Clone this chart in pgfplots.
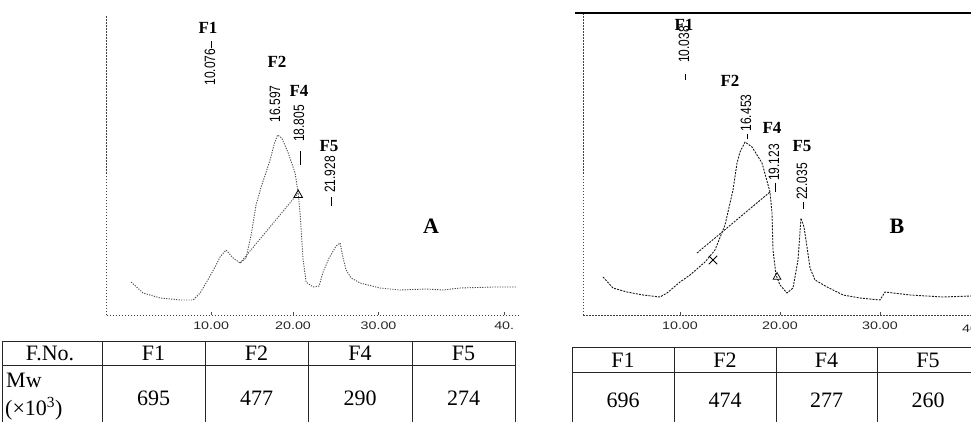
\documentclass[border=0pt]{standalone}
\usepackage{pgfplots}
\pgfplotsset{compat=1.18}
\usepackage{fontspec}
\setmainfont{Liberation Serif}
\newfontfamily\tnr{Liberation Serif}
\newfontfamily\narrow[FakeStretch=0.8]{Liberation Sans}
\newfontfamily\wide[FakeStretch=1.3]{Liberation Sans}
\newcommand{\pk}[2]{\raisebox{3.6pt}{\rule{#1}{0.8pt}}\hspace{#2}}
\begin{document}
\begin{tikzpicture}[x=1pt,y=1pt]
\useasboundingbox (0,0) rectangle (971,421);
\pgfplotsset{
  chrom/.style={scale only axis, anchor=south west, clip=false,
    axis x line*=bottom, axis y line*=left,
    axis line style={black!75, line width=0.8pt, dash pattern=on 1.5pt off 1.5pt},
    ytick=\empty, major tick length=3pt,
    tick style={black!70, line width=0.6pt},
    xticklabel style={font=\wide\fontsize{11}{11}\selectfont, yshift=-3pt, text=black!85}},
  curve/.style={black!70, line width=0.9pt, dash pattern=on 1.2pt off 1.3pt},
}
% ---------------- Panel A ----------------
\begin{axis}[chrom, at={(103.5,106)}, width=412pt, height=300pt,
  xmin=0, xmax=40, ymin=0, ymax=300,
  xtick={10.15,18.1,26.4,38.6}, xticklabels={10.00,20.00,30.00,40.}]
\addplot[curve] coordinates {
(2.38,33) (3.54,22) (5.19,17) (6.17,16) (7.23,15) (8.40,15) (9.08,22) (9.66,32)
(10.53,48) (11.02,58) (11.60,65) (12.28,57) (12.96,52) (13.54,57) (14.03,80)
(14.51,110) (15.00,128) (15.49,143) (15.87,155) (16.30,172) (16.60,180) (17.00,177)
(17.60,163) (18.30,142) (18.60,122) (18.80,100) (18.95,75) (19.08,55) (19.37,33)
(20.05,28) (20.63,29) (21.02,43) (21.60,57) (22.28,69) (22.67,72) (22.96,57)
(23.25,45) (23.74,37) (24.61,32) (26.55,27) (28.50,25) (31.02,26) (32.67,25)
(34.32,27) (37.52,28) (39.76,28)};
\addplot[curve] coordinates {(12.96,52) (18.60,122)};
\addplot[only marks, mark=triangle, mark size=5pt, mark options={black, line width=0.8pt}] coordinates {(18.6,120)};
\end{axis}
% ---------------- Panel B ----------------
\begin{axis}[chrom, at={(583,106)}, width=388pt, height=302pt,
  xmin=0.3, xmax=39.1, ymin=0, ymax=302,
  xtick={10,20,30}, xticklabels={10.00,20.00,30.00},
  after end axis/.code={\draw[black, line width=1.2pt] ([xshift=-8pt]rel axis cs:0,1) -- (rel axis cs:1,1);}]
\addplot[curve, black!90, dash pattern=on 2pt off 1.2pt] coordinates {
(2.3,38) (3.3,27) (4.7,23) (6.3,20) (8.0,18) (8.7,22) (10.0,33) (11.0,40) (12.5,53)
(13.5,65) (14.5,90) (15.3,125) (15.7,152) (16.0,163) (16.5,173) (17.2,168) (18.2,152)
(19.0,123) (19.2,102) (19.3,65) (19.6,40) (20.0,30) (20.7,22) (21.3,27) (21.8,55)
(22.1,97) (22.4,88) (22.7,68) (23.0,47) (23.5,35) (24.7,28) (26.3,20) (28.0,17)
(30.0,15) (30.5,23) (33.0,20) (36.3,18) (39.1,19)};
\addplot[curve, black!90, dash pattern=on 2pt off 1.2pt] coordinates {(11.7,62) (19.0,123)};
\addplot[only marks, mark=triangle, mark size=4.5pt, mark options={black, line width=0.7pt}] coordinates {(19.7,38)};
\addplot[only marks, mark=x, mark size=6pt, mark options={black, line width=0.8pt}] coordinates {(13.3,55)};
\node[font=\wide\fontsize{11}{11}\selectfont, anchor=north, yshift=-6pt, text=black!85] at (axis cs:40,0) {40.00};
\end{axis}
% ---------------- peak labels ----------------
\begin{scope}[every node/.style={inner sep=0pt}]
\node[font=\bfseries\fontsize{17}{17}\selectfont] at (208,393) {F1};
\node[font=\bfseries\fontsize{17}{17}\selectfont] at (277,359) {F2};
\node[font=\bfseries\fontsize{17}{17}\selectfont] at (299,330) {F4};
\node[font=\bfseries\fontsize{17}{17}\selectfont] at (329,275) {F5};
\node[rotate=90, font=\narrow\fontsize{15}{15}\selectfont] at (210,357.5) {10.076\hspace{0.5pt}\pk{7pt}{0pt}};
\node[rotate=90, font=\narrow\fontsize{15}{15}\selectfont] at (275,317) {16.597};
\node[rotate=90, font=\narrow\fontsize{15}{15}\selectfont] at (299,286) {\pk{14pt}{9pt}18.805};
\node[rotate=90, font=\narrow\fontsize{15}{15}\selectfont] at (330,240) {\pk{9pt}{4pt}21.928};
\node[font=\bfseries\fontsize{22}{22}\selectfont] at (431,195) {A};
\node[font=\bfseries\fontsize{17}{17}\selectfont] at (684,396) {F1};
\node[font=\bfseries\fontsize{17}{17}\selectfont] at (730,340) {F2};
\node[font=\bfseries\fontsize{17}{17}\selectfont] at (772,293) {F4};
\node[font=\bfseries\fontsize{17}{17}\selectfont] at (802,275) {F5};
\node[rotate=90, font=\narrow\fontsize{15}{15}\selectfont] at (684,368) {\pk{6pt}{11pt}10.038};
\node[rotate=90, font=\narrow\fontsize{15}{15}\selectfont] at (746,304) {\pk{5pt}{3pt}16.453};
\node[rotate=90, font=\narrow\fontsize{15}{15}\selectfont] at (774,253) {\pk{9pt}{2pt}19.123};
\node[rotate=90, font=\narrow\fontsize{15}{15}\selectfont] at (802,235) {\pk{7pt}{2pt}22.035};
\node[font=\bfseries\fontsize{22}{22}\selectfont] at (897,195) {B};
\end{scope}
% ---------------- tables ----------------
\begin{scope}[line width=1pt, black!85]
\draw (2,80) -- (515,80);
\draw (2,56) -- (515,56);
\foreach \x in {2,102,205,308,412,515} \draw (\x,80) -- (\x,-2);
\draw (572,74) -- (975,74);
\draw (572,49) -- (975,49);
\foreach \x in {572,674,776,877} \draw (\x,74) -- (\x,-2);
\end{scope}
\begin{scope}[every node/.style={inner sep=0pt, font=\tnr\fontsize{22}{22}\selectfont}]
\node at (50,68) {F.No.};
\node at (153.5,68) {F1};
\node at (256.5,68) {F2};
\node at (360,68) {F4};
\node at (463.5,68) {F5};
\node[anchor=west] at (6,41) {Mw};
\node[anchor=west] at (5,12) {(×10\textsuperscript{3})};
\node at (153.5,23) {695};
\node at (256.5,23) {477};
\node at (360,23) {290};
\node at (463.5,23) {274};
\node at (623,61) {F1};
\node at (725,61) {F2};
\node at (826.5,61) {F4};
\node at (928,61) {F5};
\node at (623,21) {696};
\node at (725,21) {474};
\node at (826.5,21) {277};
\node at (928,21) {260};
\end{scope}
\end{tikzpicture}
\end{document}
